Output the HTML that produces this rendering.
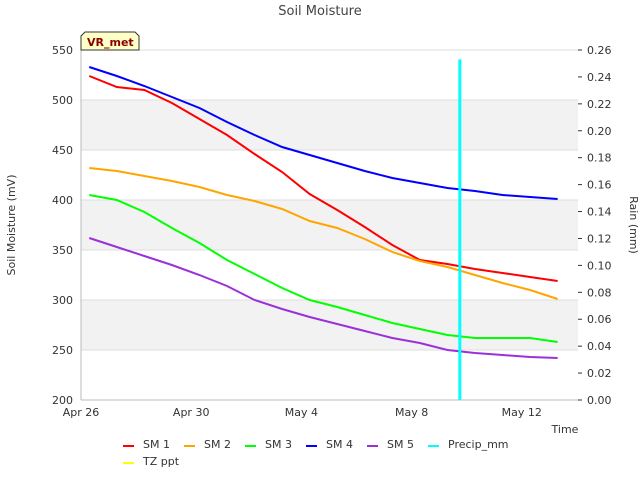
<!DOCTYPE html>
<html><head><meta charset="utf-8"><style>
body{margin:0;background:#fff;font-family:"Liberation Sans","DejaVu Sans",sans-serif}
svg text{font-family:"DejaVu Sans","Liberation Sans",sans-serif}
</style></head><body>
<svg id="c" width="640" height="480" xmlns="http://www.w3.org/2000/svg">
<text x="320" y="15" text-anchor="middle" font-size="13" fill="#444">Soil Moisture</text>
<g id="bands"></g><g id="axes"></g><g id="series"></g>
<g>
<path d="M81,50 L81,36 L85,32 L135,32 L139,36 L139,50 Z" fill="#ffffc8" stroke="#333" stroke-width="1"/>
<text x="87" y="46" font-size="11" font-weight="bold" fill="#8b0000">VR_met</text></g>
<text x="15" y="225" transform="rotate(-90 15 225)" text-anchor="middle" font-size="11" fill="#333">Soil Moisture (mV)</text>
<text x="630" y="225" transform="rotate(90 630 225)" text-anchor="middle" font-size="11" fill="#333">Rain (mm)</text>
<text x="565" y="433" text-anchor="middle" font-size="11" fill="#333">Time</text>
<g id="legend"></g>
</svg>
<script>
const days=[0.3,1.3,2.3,3.3,4.3,5.3,6.3,7.3,8.3,9.3,10.3,11.3,12.3,13.3,14.3,15.3,16.3,17.3];
const sm1=[524,513,510,497,481,465,446,428,406,390,373,355,340,336,331,327,323,319];
const sm2=[432,429,424,419,413,405,399,391,379,372,361,348,339,333,325,317,310,301];
const sm3=[405,400,388,372,357,340,326,312,300,293,285,277,271,265,262,262,262,258];
const sm4=[533,524,514,503,492,478,465,453,445,437,429,422,417,412,409,405,403,401];
const sm5=[362,353,344,335,325,314,300,291,283,276,269,262,257,250,247,245,243,242];
const precipDay=[13.75];
const precipVal=[0.253];
const yTicks=[200,250,300,350,400,450,500,550];
const y2Ticks=[0,0.02,0.04,0.06,0.08,0.10,0.12,0.14,0.16,0.18,0.20,0.22,0.24,0.26];
const xTickDays=[0,4,8,12,16];
const xTickLabels=["Apr 26","Apr 30","May 4","May 8","May 12"];
const L=81,R=578,T=50,B=400;
const X=d=>L+d*27.55;
const Y=v=>B-(v-200)*(B-T)/350;
const Y2=v=>B-v*(B-T)/0.26;
const NS="http://www.w3.org/2000/svg";
function mk(tag,attrs,parent,txt){const e=document.createElementNS(NS,tag);for(const k in attrs)e.setAttribute(k,attrs[k]);if(txt!==undefined)e.textContent=txt;document.getElementById(parent).appendChild(e);return e;}
for(let i=0;i<yTicks.length-1;i++){if(i%2==1){const r=mk('rect',{x:L,y:Y(yTicks[i+1]),width:R-L,height:Y(yTicks[i])-Y(yTicks[i+1]),fill:'#f2f2f2'},'bands');

}}
yTicks.forEach(v=>{const l=mk('line',{x1:L,x2:R,y1:Y(v),y2:Y(v),stroke:'#ddd'},'axes');


const t=mk('text',{x:L-8,y:Y(v)+4,'text-anchor':'end','font-size':11,fill:'#333'},'axes',v);

});
y2Ticks.forEach(v=>{mk('line',{x1:R,x2:R+4,y1:Y2(v),y2:Y2(v),stroke:'#333'},'axes');
const t=mk('text',{x:R+9,y:Y2(v)+4,'font-size':11,fill:'#333'},'axes',v.toFixed(2));

});
mk('line',{x1:L,x2:L,y1:T,y2:B,stroke:'#bbb'},'axes');
mk('line',{x1:L,x2:R,y1:B,y2:B,stroke:'#bbb'},'axes');
xTickDays.forEach((d,i)=>{const t=mk('text',{x:X(d),y:B+16,'text-anchor':'middle','font-size':11,fill:'#333'},'axes',xTickLabels[i]);

});
const series=[[sm1,'#ff0000','sm1-line'],[sm2,'#ffa500','sm2-line'],[sm3,'#00ff00','sm3-line'],[sm4,'#0000ff','sm4-line'],[sm5,'#9b30d9','sm5-line']];
series.forEach(s=>{const p=mk('polyline',{points:s[0].map((v,i)=>X(days[i])+','+Y(v)).join(' '),fill:'none',stroke:s[1],'stroke-width':2},'series');

});
precipDay.forEach((d,i)=>{const l=mk('line',{x1:X(d),x2:X(d),y1:B,y2:Y2(precipVal[i]),stroke:'#00ffff','stroke-width':3},'series');

});
const leg=[['SM 1','#ff0000',123,444],['SM 2','#ffa500',184,444],['SM 3','#00ff00',245,444],['SM 4','#0000ff',306,444],['SM 5','#9b30d9',367,444],['Precip_mm','#00ffff',428,444],['TZ ppt','#ffff00',123,461]];
leg.forEach(e=>{const g=mk('g',{},'legend');


const a=document.createElementNS(NS,'line');a.setAttribute('x1',e[2]);a.setAttribute('x2',e[2]+11);a.setAttribute('y1',e[3]+2);a.setAttribute('y2',e[3]+2);a.setAttribute('stroke',e[1]);a.setAttribute('stroke-width',2);g.appendChild(a);
const t=document.createElementNS(NS,'text');t.setAttribute('x',e[2]+20);t.setAttribute('y',e[3]+4);t.setAttribute('font-size',11);t.setAttribute('fill','#333');t.textContent=e[0];g.appendChild(t);});
</script>
</body></html>
